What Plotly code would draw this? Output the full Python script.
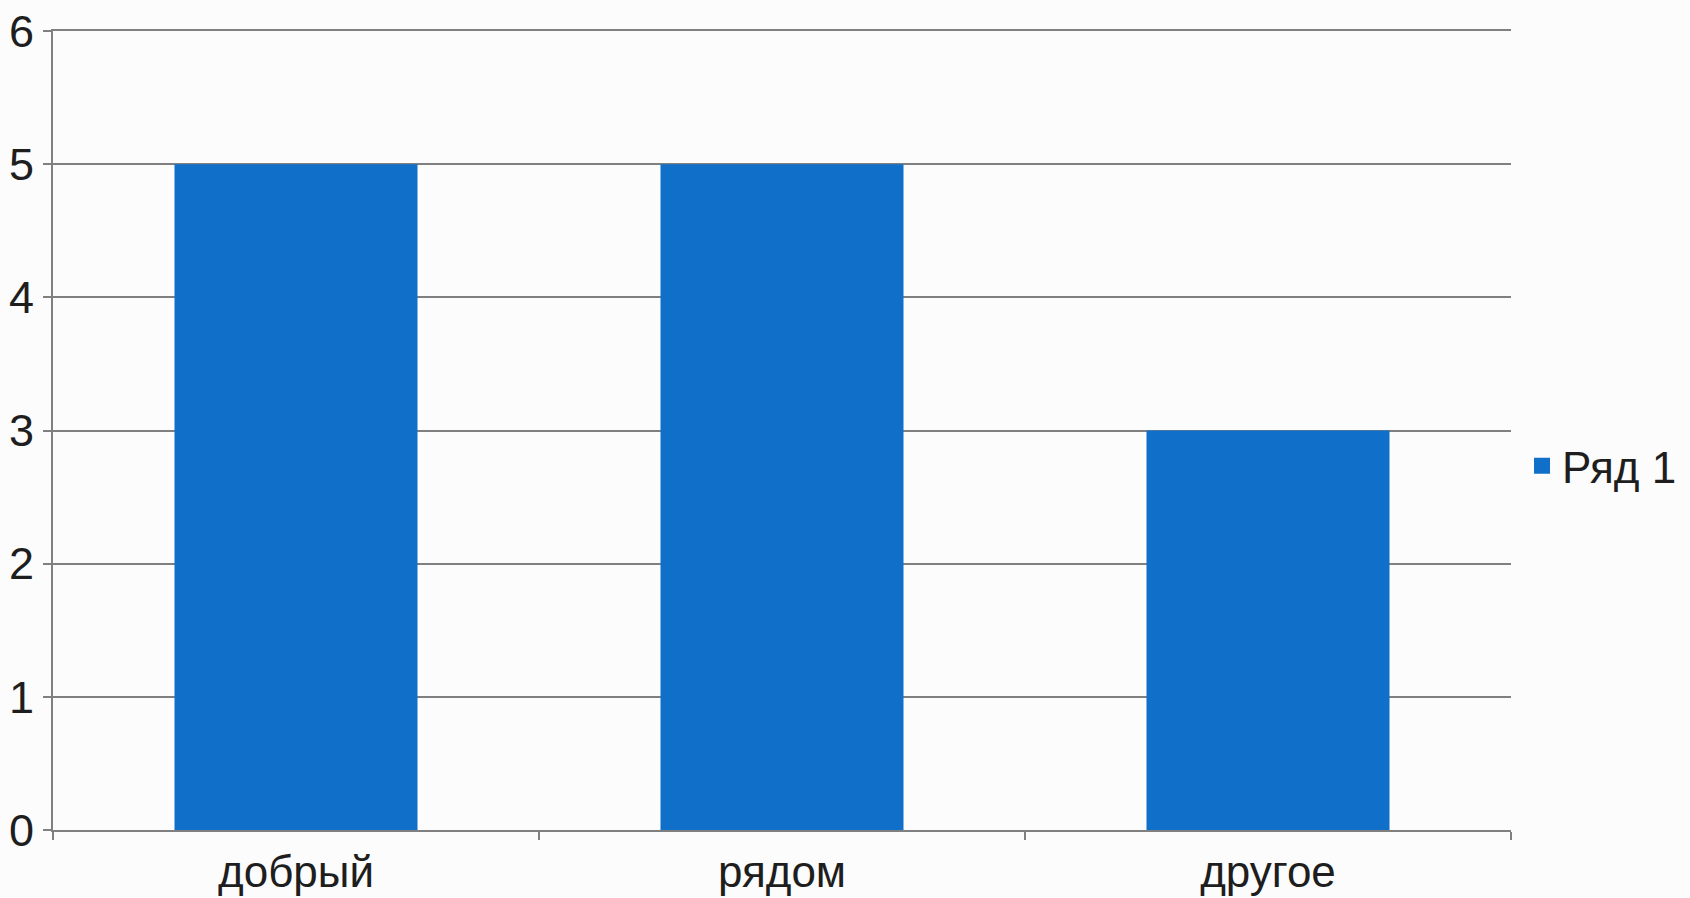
import plotly.graph_objects as go

categories = ["добрый", "рядом", "другое"]
values = [5, 5, 3]
series_name = "Ряд 1"
y_ticks = [0, 1, 2, 3, 4, 5, 6]

FONT = "Liberation Sans, Arial, sans-serif"
BAR_COLOR = "#106fc8"

fig = go.Figure()
fig.add_trace(go.Bar(
    x=categories, y=values, name=series_name,
    marker=dict(color=BAR_COLOR, line=dict(width=0)),
    showlegend=False,
))
# legend entry with a larger square swatch
fig.add_trace(go.Scatter(
    x=[None], y=[None], mode="markers", name=series_name,
    marker=dict(symbol="square", size=16, color=BAR_COLOR),
    showlegend=True,
))

fig.update_layout(
    width=1690, height=898,
    margin=dict(l=53, r=179, t=31, b=68),
    paper_bgcolor="#fcfcfc", plot_bgcolor="#fcfcfc",
    bargap=0.5,
    font=dict(family=FONT, size=45, color="#1e1e1e"),
    showlegend=True,
    legend=dict(xref="container", yref="container",
                x=0.9006, y=0.481, xanchor="left", yanchor="middle",
                font=dict(size=44, color="#1e1e1e"),
                bgcolor="rgba(0,0,0,0)", itemwidth=30),
)
fig.update_xaxes(
    automargin=False,
    showgrid=False, showline=True, linecolor="#808080", linewidth=2, mirror=True,
    ticks="outside", tickson="boundaries", ticklen=8, tickcolor="#808080", tickwidth=2,
    ticklabelstandoff=2,
    tickfont=dict(size=44, family=FONT, color="#1e1e1e"),
)
fig.update_yaxes(
    automargin=False,
    range=[0, 6], tickvals=y_ticks, showgrid=True, gridcolor="#808080", gridwidth=2,
    showline=True, linecolor="#808080", linewidth=2, zeroline=False,
    ticks="outside", ticklen=8, tickcolor="#808080", tickwidth=2,
    tickfont=dict(size=45, family=FONT, color="#1e1e1e"),
)

fig.write_html(
    "out.html", config={"displayModeBar": False},
    post_script=(
        "document.body.style.margin='0';"
        "document.body.style.overflow='hidden';"
        "document.documentElement.style.overflow='hidden';"
    ),
)
